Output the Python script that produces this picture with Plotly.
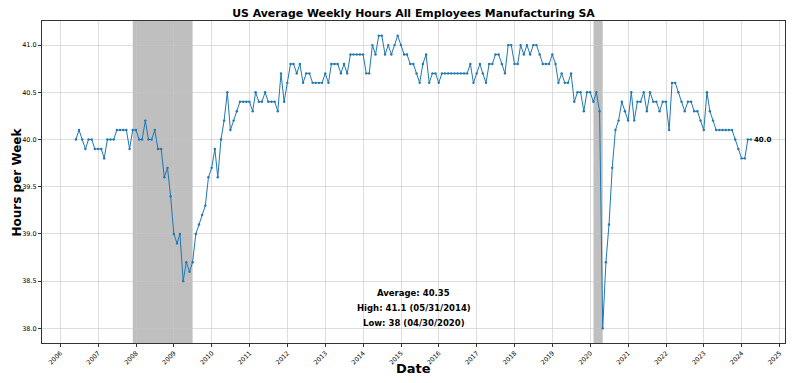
import pandas as pd
import plotly.graph_objects as go

# Monthly observations, month-end dates from 2006-05 to 2024-03
start_date = "2006-05-31"
end_date = "2024-03-31"
hours = [
    40.0, 40.1, 40.0, 39.9, 40.0, 40.0, 39.9, 39.9, 39.9, 39.8,
    40.0, 40.0, 40.0, 40.1, 40.1, 40.1, 40.1, 39.9, 40.1, 40.1,
    40.0, 40.0, 40.2, 40.0, 40.0, 40.1, 39.9, 39.9, 39.6, 39.7,
    39.4, 39.0, 38.9, 39.0, 38.5, 38.7, 38.6, 38.7, 39.0, 39.1,
    39.2, 39.3, 39.6, 39.7, 39.9, 39.6, 40.0, 40.2, 40.5, 40.1,
    40.2, 40.3, 40.4, 40.4, 40.4, 40.4, 40.3, 40.5, 40.4, 40.4,
    40.5, 40.4, 40.4, 40.4, 40.3, 40.7, 40.4, 40.6, 40.8, 40.8,
    40.7, 40.8, 40.6, 40.7, 40.7, 40.6, 40.6, 40.6, 40.6, 40.7,
    40.6, 40.8, 40.8, 40.8, 40.7, 40.8, 40.7, 40.9, 40.9, 40.9,
    40.9, 40.9, 40.7, 40.7, 41.0, 40.9, 41.1, 41.1, 40.9, 41.0,
    40.9, 41.0, 41.1, 41.0, 40.9, 40.9, 40.8, 40.8, 40.7, 40.6,
    40.8, 40.9, 40.6, 40.7, 40.7, 40.6, 40.7, 40.7, 40.7, 40.7,
    40.7, 40.7, 40.7, 40.7, 40.7, 40.8, 40.6, 40.7, 40.8, 40.7,
    40.6, 40.8, 40.8, 40.9, 40.9, 40.8, 40.7, 41.0, 41.0, 40.8,
    40.8, 41.0, 40.9, 41.0, 40.9, 41.0, 41.0, 40.9, 40.8, 40.8,
    40.8, 40.9, 40.8, 40.6, 40.7, 40.6, 40.6, 40.7, 40.4, 40.5,
    40.5, 40.3, 40.5, 40.5, 40.4, 40.5, 40.3, 38.0, 38.7, 39.1,
    39.7, 40.1, 40.2, 40.4, 40.3, 40.2, 40.5, 40.2, 40.4, 40.4,
    40.5, 40.3, 40.5, 40.4, 40.4, 40.3, 40.4, 40.4, 40.1, 40.6,
    40.6, 40.5, 40.4, 40.3, 40.4, 40.4, 40.3, 40.3, 40.2, 40.1,
    40.5, 40.3, 40.2, 40.1, 40.1, 40.1, 40.1, 40.1, 40.1, 40.0,
    39.9, 39.8, 39.8, 40.0, 40.0,
]
dates = pd.date_range(start_date, end_date, freq="ME")

recession_starts = ["2007-12-01", "2020-02-01"]
recession_ends = ["2009-06-30", "2020-04-30"]

stats_lines = ["Average: 40.35", "High: 41.1 (05/31/2014)", "Low: 38 (04/30/2020)"]
y_ticks = [38.0, 38.5, 39.0, 39.5, 40.0, 40.5, 41.0]
x_ticks = [f"{y}-01-01" for y in range(2006, 2026)]
x_tick_text = [str(y) for y in range(2006, 2026)]

FONT = "DejaVu Sans"
fig = go.Figure()

fig.add_trace(go.Scatter(
    x=dates, y=hours, mode="lines+markers",
    line=dict(color="#1f77b4", width=1.0),
    marker=dict(color="#1f77b4", size=2.4),
    showlegend=False, hoverinfo="skip",
))

for s, e in zip(recession_starts, recession_ends):
    fig.add_vrect(x0=s, x1=e, fillcolor="rgba(128,128,128,0.5)", line_width=0, layer="below")

fig.add_annotation(
    x=dates[-1], y=hours[-1], text=f"<b>{hours[-1]:.1f}</b>", showarrow=False,
    xanchor="left", yanchor="middle", xshift=1, font=dict(family=FONT, size=7, color="black"),
)

stats_y = [0.155, 0.109, 0.062]
for line, yy in zip(stats_lines, stats_y):
    fig.add_annotation(
        x=0.5, y=yy, xref="paper", yref="paper", text=f"<b>{line}</b>",
        showarrow=False, xanchor="center", yanchor="middle",
        font=dict(family=FONT, size=8.5, color="black"),
    )

# axis labels
fig.add_annotation(
    x=0.5, y=368, xref="paper", yref="paper", text="<b>Date</b>", showarrow=False,
    font=dict(family=FONT, size=13, color="black"), xanchor="center", yanchor="middle",
)
fig.add_annotation(
    x=-0.033, y=0.5, xref="paper", yref="paper", text="<b>Hours per Week</b>", showarrow=False,
    textangle=-90, font=dict(family=FONT, size=12, color="black"),
    xanchor="center", yanchor="middle",
)
# convert Date label y from pixels to paper coords
plot_top, plot_bottom = 21, 343
fig.layout.annotations[-2].y = (plot_bottom - 368) / (plot_bottom - plot_top)

fig.update_layout(
    width=800, height=383,
    margin=dict(l=42, r=15, t=plot_top, b=383 - plot_bottom),
    paper_bgcolor="white", plot_bgcolor="white",
    font=dict(family=FONT, color="black"),
    title=dict(text="<b>US Average Weekly Hours All Employees Manufacturing SA</b>",
               x=0.5, xref="paper", xanchor="center", y=0.975, yanchor="top",
               font=dict(family=FONT, size=10.9, color="black")),
)

fig.update_xaxes(
    range=["2005-07-08", "2025-02-22"], automargin=False,
    tickmode="array", tickvals=x_ticks, ticktext=x_tick_text,
    tickangle=-45, tickfont=dict(family=FONT, size=6.3),
    ticks="outside", ticklen=3, tickcolor="#333",
    showgrid=True, gridcolor="rgba(200,200,200,0.6)", gridwidth=0.6,
    showline=True, linecolor="#333", linewidth=1, mirror=True,
    zeroline=False,
)
fig.update_yaxes(
    range=[37.845, 41.255], automargin=False,
    tickmode="array", tickvals=y_ticks, ticktext=[f"{v:.1f}" for v in y_ticks],
    tickfont=dict(family=FONT, size=6.5),
    ticks="outside", ticklen=3, tickcolor="#333",
    showgrid=True, gridcolor="rgba(200,200,200,0.6)", gridwidth=0.6,
    showline=True, linecolor="#333", linewidth=1, mirror=True,
    zeroline=False,
)

fig.write_html("out.html", config={"displayModeBar": False},
               post_script="document.body.style.margin='0';")
